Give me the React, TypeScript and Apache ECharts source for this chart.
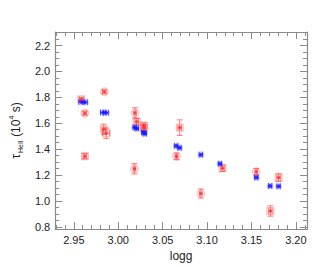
import React, { useEffect, useRef } from "react";
import * as echarts from "echarts";

const xTickLabels = ["2.95", "3.00", "3.05", "3.10", "3.15", "3.20"];
const yTickLabels = ["0.8", "1.0", "1.2", "1.4", "1.6", "1.8", "2.0", "2.2"];

// Blue points: logg, tau, x error
const blueX = [2.9585, 2.9625, 2.983, 2.9862, 3.0185, 3.0208, 3.0283, 3.0298, 3.0652, 3.0690, 3.093, 3.1145, 3.1555, 3.171, 3.1805];
const blueY = [1.765, 1.763, 1.683, 1.681, 1.568, 1.560, 1.530, 1.520, 1.425, 1.410, 1.357, 1.287, 1.181, 1.115, 1.113];
const blueXErr = [0.003, 0.003, 0.003, 0.003, 0.002, 0.002, 0.002, 0.002, 0.002, 0.002, 0.002, 0.002, 0.002, 0.002, 0.002];

// Red points drawn as circles
const redCircX = [2.9624, 2.9843, 3.0189, 3.0182, 3.0656, 3.093, 3.1554];
const redCircY = [1.678, 1.843, 1.680, 1.248, 1.344, 1.057, 1.225];
const redCircYErr = [0.015, 0.015, 0.04, 0.04, 0.025, 0.035, 0.025];
const redCircXErr = [0.002, 0.002, 0.0015, 0.0015, 0.0015, 0.0015, 0.0015];

// Red points drawn as squares
const redSqX = [2.9584, 2.9624, 2.9836, 2.9865, 3.0208, 3.0288, 3.029, 3.0692, 3.1174, 3.1713, 3.1805];
const redSqY = [1.785, 1.345, 1.553, 1.523, 1.612, 1.583, 1.565, 1.566, 1.252, 0.922, 1.180];
const redSqYErr = [0.015, 0.02, 0.04, 0.04, 0.025, 0.02, 0.02, 0.06, 0.025, 0.04, 0.03];
const redSqXErr = [0.002, 0.002, 0.002, 0.004, 0.002, 0.002, 0.002, 0.002, 0.002, 0.002, 0.002];

const X_MIN = 2.929;
const X_MAX = 3.2125;
const Y_MIN = 0.782;
const Y_MAX = 2.305;

const AXIS_COLOR = "#8a8a8a";
const FONT = "Liberation Sans, Arial, Helvetica, sans-serif";

function errBarRender(color: string) {
  return (params: any, api: any) => {
    const x = api.value(0);
    const y = api.value(1);
    const ex = api.value(2);
    const ey = api.value(3);
    const cap = 3;
    const children: any[] = [];
    const style = { stroke: color, lineWidth: 1 };
    if (ex > 0) {
      const l = api.coord([x - ex, y]);
      const r = api.coord([x + ex, y]);
      children.push({ type: "line", shape: { x1: l[0], y1: l[1], x2: r[0], y2: r[1] }, style });
      children.push({ type: "line", shape: { x1: l[0], y1: l[1] - cap, x2: l[0], y2: l[1] + cap }, style });
      children.push({ type: "line", shape: { x1: r[0], y1: r[1] - cap, x2: r[0], y2: r[1] + cap }, style });
    }
    if (ey > 0) {
      const t = api.coord([x, y + ey]);
      const b = api.coord([x, y - ey]);
      children.push({ type: "line", shape: { x1: t[0], y1: t[1], x2: b[0], y2: b[1] }, style });
      children.push({ type: "line", shape: { x1: t[0] - cap, y1: t[1], x2: t[0] + cap, y2: t[1] }, style });
      children.push({ type: "line", shape: { x1: b[0] - cap, y1: b[1], x2: b[0] + cap, y2: b[1] }, style });
    }
    return { type: "group", children };
  };
}

function xAxisCfg(pos: "bottom" | "top", labels: boolean) {
  return {
    type: "value",
    position: pos,
    min: X_MIN,
    max: X_MAX,
    splitNumber: 5,
    name: labels ? "logg" : "",
    nameLocation: "middle",
    nameGap: 16,
    nameTextStyle: { color: "#222", fontSize: 12, fontFamily: FONT },
    axisLine: { show: true, onZero: false, lineStyle: { color: AXIS_COLOR, width: 1.2 } },
    axisTick: { show: true, inside: true, length: 7, lineStyle: { color: AXIS_COLOR } },
    minorTick: { show: true, splitNumber: 5, length: 4, lineStyle: { color: AXIS_COLOR } },
    splitLine: { show: false },
    axisLabel: {
      show: labels,
      showMinLabel: false,
      showMaxLabel: false,
      color: "#222",
      fontSize: 11,
      fontFamily: FONT,
      margin: 5,
      formatter: (v: number) => {
        const s = v.toFixed(2);
        return xTickLabels.includes(s) ? s : "";
      },
    },
  };
}

function yAxisCfg(pos: "left" | "right", labels: boolean) {
  return {
    type: "value",
    position: pos,
    min: Y_MIN,
    max: Y_MAX,
    splitNumber: 7,
    name: labels ? "{t|τ}{s|HeII}{t| (10}{p|4}{t| s)}" : "",
    nameLocation: "middle",
    nameRotate: 90,
    nameGap: 30,
    nameTextStyle: {
      color: "#222",
      fontFamily: FONT,
      rich: {
        t: { fontSize: 12, color: "#222", fontFamily: FONT, lineHeight: 16, verticalAlign: "middle" },
        s: { fontSize: 7, color: "#222", fontFamily: FONT, lineHeight: 16, verticalAlign: "bottom", padding: [5, 0, 0, 1] },
        p: { fontSize: 7, color: "#222", fontFamily: FONT, lineHeight: 16, verticalAlign: "top", padding: [0, 0, 5, 0] },
      },
    },
    axisLine: { show: true, onZero: false, lineStyle: { color: AXIS_COLOR, width: 1.2 } },
    axisTick: { show: true, inside: true, length: 7, lineStyle: { color: AXIS_COLOR } },
    minorTick: { show: true, splitNumber: 4, length: 4, lineStyle: { color: AXIS_COLOR } },
    splitLine: { show: false },
    axisLabel: {
      show: labels,
      showMinLabel: false,
      showMaxLabel: false,
      color: "#222",
      fontSize: 11,
      fontFamily: FONT,
      margin: 5,
      formatter: (v: number) => {
        const s = v.toFixed(1);
        return yTickLabels.includes(s) && Math.abs(v - parseFloat(s)) < 1e-6 ? s : "";
      },
    },
  };
}

export default function App() {
  const ref = useRef<HTMLDivElement>(null);
  useEffect(() => {
    if (!ref.current) return;
    const chart = echarts.init(ref.current, undefined, { renderer: "svg" });

    const blueData = blueX.map((x, i) => [x, blueY[i], blueXErr[i], 0]);
    const redCircData = redCircX.map((x, i) => [x, redCircY[i], redCircXErr[i], redCircYErr[i]]);
    const redSqData = redSqX.map((x, i) => [x, redSqY[i], redSqXErr[i], redSqYErr[i]]);
    const redAll = redCircData.concat(redSqData);

    chart.setOption({
      animation: false,
      backgroundColor: "#ffffff",
      grid: { left: 48, right: 26, top: 32, bottom: 37.5, containLabel: false },
      xAxis: [xAxisCfg("bottom", true), xAxisCfg("top", false)],
      yAxis: [yAxisCfg("left", true), yAxisCfg("right", false)],
      series: [
        {
          type: "scatter",
          data: redCircData.map((d) => [d[0], d[1]]),
          symbol: "circle",
          symbolSize: 8,
          itemStyle: { color: "rgba(255,150,150,0.15)", borderColor: "rgba(255,80,80,0.5)", borderWidth: 1 },
          z: 2,
        },
        {
          type: "scatter",
          data: redSqData.map((d) => [d[0], d[1]]),
          symbol: "rect",
          symbolSize: 7,
          itemStyle: { color: "rgba(255,130,130,0.2)", borderColor: "rgba(255,80,80,0.5)", borderWidth: 1 },
          z: 2,
        },
        {
          type: "custom",
          renderItem: errBarRender("rgba(255,70,70,0.7)"),
          data: redAll,
          encode: { x: 0, y: 1 },
          z: 3,
        },
        {
          type: "scatter",
          data: blueData.map((d) => [d[0], d[1]]),
          symbol: "circle",
          symbolSize: 7,
          itemStyle: { color: "rgba(60,60,255,0.3)" },
          z: 4,
        },
        {
          type: "custom",
          renderItem: errBarRender("rgba(40,40,255,0.8)"),
          data: blueData,
          encode: { x: 0, y: 1 },
          z: 5,
        },
        {
          type: "scatter",
          data: blueData.map((d) => [d[0], d[1]]),
          symbol: "circle",
          symbolSize: 4,
          itemStyle: { color: "rgba(20,20,255,1)" },
          z: 6,
        },
        {
          type: "scatter",
          data: redAll.map((d) => [d[0], d[1]]),
          symbol: "circle",
          symbolSize: 3.5,
          itemStyle: { color: "rgba(255,40,40,0.85)" },
          z: 7,
        },
      ],
    });
    return () => chart.dispose();
  }, []);
  return (
    <div
      ref={ref}
      style={{ position: "absolute", left: 0, top: 0, width: 333, height: 267 }}
    />
  );
}
